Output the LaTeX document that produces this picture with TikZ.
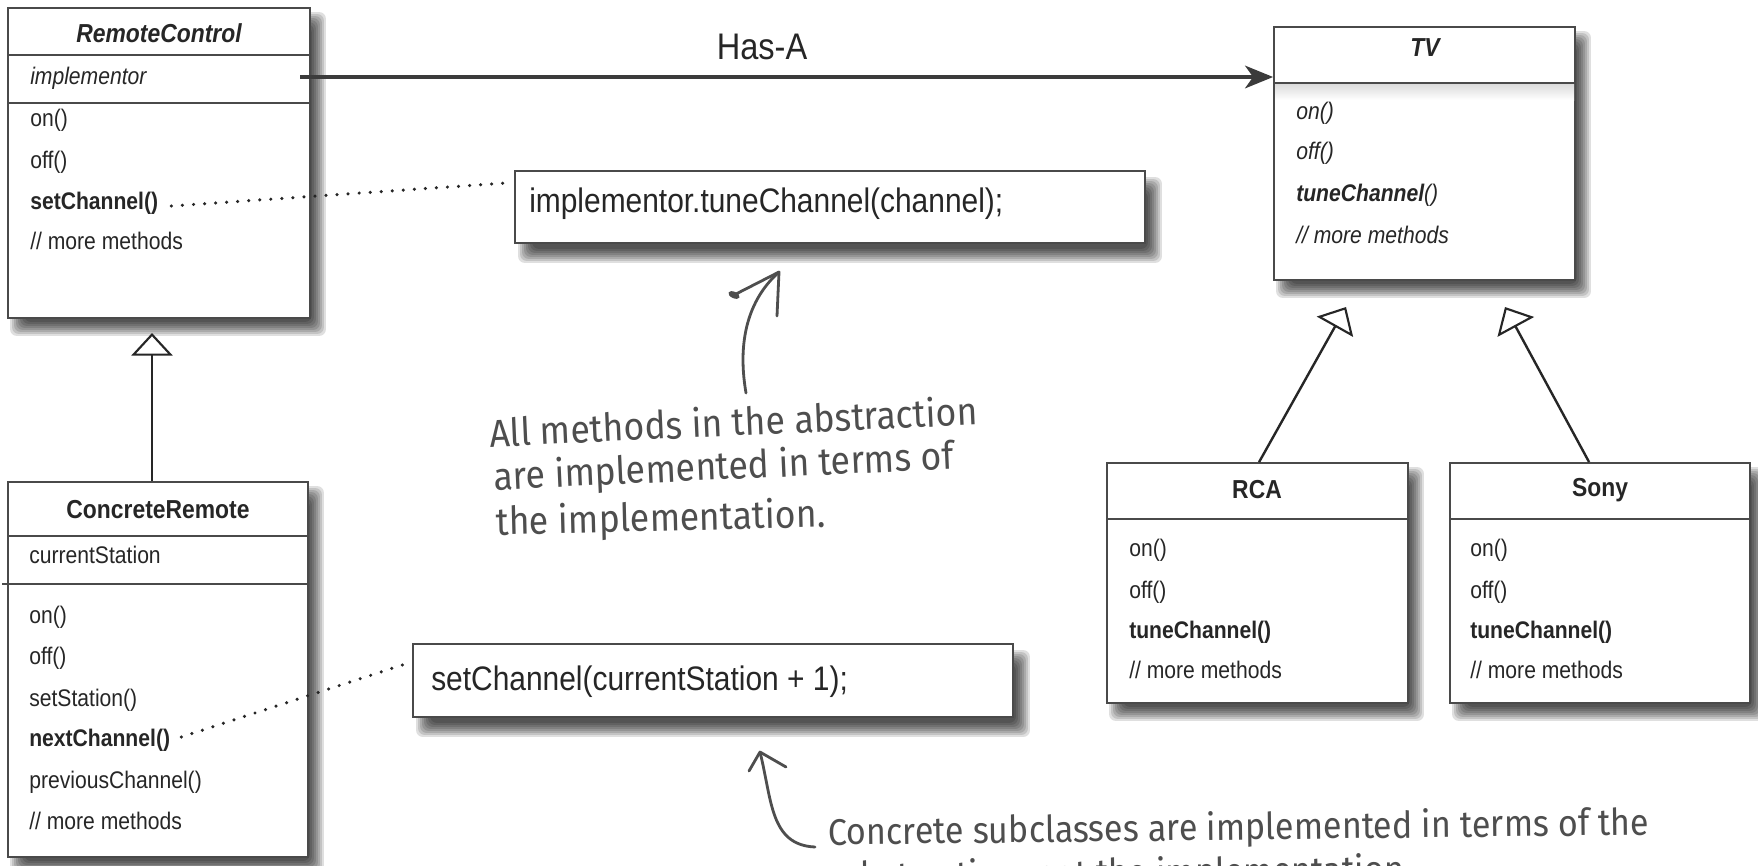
\documentclass[tikz,border=0pt]{standalone}
\usepackage{fontspec}
\usetikzlibrary{arrows.meta,calc,fit}
\newfontfamily\umlfont{Liberation Sans}[FakeStretch=0.88]
\newfontfamily\handfont{Fira Sans}[FakeStretch=0.92]
\definecolor{edge}{HTML}{4A4A4A}
\definecolor{ink}{HTML}{262626}
\definecolor{pencil}{HTML}{4E4E4E}
\pgfdeclarelayer{bglayer}
\pgfdeclarelayer{shadowlayer}
\pgfsetlayers{bglayer,shadowlayer,main}
% soft drop shadow behind a box node: #1 node, #2/#3 offset
\newcommand\dropshadow[3]{%
  \begin{pgfonlayer}{shadowlayer}
    \foreach \k in {0,...,7}{%
      \pgfmathsetmacro\e{2*\k-8}%
      \pgfmathsetmacro\xa{#2-\e}%
      \pgfmathsetmacro\ya{#3-\e}%
      \pgfmathsetmacro\xb{#2+\e}%
      \pgfmathsetmacro\yb{#3+\e}%
      \fill[black,opacity=0.125,rounded corners=5pt]
        ($(#1.north west)+(\xa,\ya)$) rectangle ($(#1.south east)+(\xb,\yb)$);
    }
  \end{pgfonlayer}}
\tikzset{
  classbox/.style={draw=edge, line width=1.4pt, fill=white, inner sep=0pt},
  divider/.style={draw=edge, line width=1.4pt},
  member/.style={font=\umlfont\fontsize{18}{20}\selectfont, text=ink, inner sep=0pt,
    anchor=west, text height=13pt, text depth=3.5pt},
  classname/.style={font=\umlfont\fontsize{19.5}{22}\selectfont\bfseries, text=ink, inner sep=0pt},
  codetext/.style={font=\umlfont\fontsize{25.5}{28}\selectfont, text=ink, inner sep=0pt, anchor=west},
  hasa/.style={draw=edge!80!black, line width=2.6pt, -{Stealth[length=21pt,width=17pt,inset=6pt]}},
  inherit/.style={draw=ink, line width=1.8pt,
    -{Triangle[open,fill=white,length=17pt,width=31pt,line width=1.6pt]}},
  dots/.style={draw=ink, line width=2.6pt, line cap=round, dash pattern=on 0pt off 8.3pt},
  handnote/.style={font=\handfont\fontsize{29}{32}\selectfont, text=pencil, inner sep=0pt, anchor=base west},
  handnote small/.style={handnote, font=\handfont\fontsize{27.8}{31}\selectfont},
  hand/.style={draw=pencil, line width=2.1pt, line cap=round, line join=round},
}
\begin{document}
\begin{tikzpicture}[x=0.75pt, y=-0.75pt]
\useasboundingbox (0,0) rectangle (1758,865);
\begin{pgfonlayer}{bglayer}
  \fill[white] (0,0) rectangle (1758,865);
\end{pgfonlayer}
\clip (0,0) rectangle (1758,865);

% ---------- RemoteControl ----------
\node[classbox, fit={(8,8) (310,318)}] (rc) {};
\dropshadow{rc}{9}{11}
\draw[divider] (8,55) -- (310,55);
\draw[divider] (8,103) -- (310,103);
\node[classname] (rc-name) at (159,33) {\itshape RemoteControl};
\node[member] (rc-impl) at (30,78) {\itshape implementor};
\node[member] (rc-on) at (30,120) {on()};
\node[member] (rc-off) at (30,162) {off()};
\node[member] (rc-set) at (30,203) {\bfseries setChannel()};
\node[member] (rc-more) at (30,243) {// more methods};

% ---------- ConcreteRemote ----------
\node[classbox, fit={(8,482) (308,857)}] (cr) {};
\dropshadow{cr}{9}{11}
\draw[divider] (8,536) -- (308,536);
\draw[divider] (2,584) -- (308,584);
\node[classname] (cr-name) at (158,510) {ConcreteRemote};
\node[member] (cr-cur) at (29,557) {currentStation};
\node[member] (cr-on) at (29,617) {on()};
\node[member] (cr-off) at (29,658) {off()};
\node[member] (cr-setst) at (29,700) {setStation()};
\node[member] (cr-next) at (29,740) {\bfseries nextChannel()};
\node[member] (cr-prev) at (29,782) {previousChannel()};
\node[member] (cr-more) at (29,823) {// more methods};

% ---------- TV ----------
\node[classbox, fit={(1274,27) (1575,280)}] (tv) {};
\dropshadow{tv}{9}{11}
\fill[top color=black!14, bottom color=white] (1275,84) rectangle (1574,100);
\draw[divider] (1274,83) -- (1575,83);
\node[classname] (tv-name) at (1425,48) {\itshape TV};
\node[member] (tv-on) at (1296,113) {\itshape on()};
\node[member] (tv-off) at (1296,153) {\itshape off()};
\node[member] (tv-tune) at (1296,195) {\itshape\textbf{tuneChannel}()};
\node[member] (tv-more) at (1296,237) {\itshape // more methods};

% ---------- RCA ----------
\node[classbox, fit={(1107,463) (1408,703)}] (rca) {};
\dropshadow{rca}{9}{11}
\draw[divider] (1107,519) -- (1408,519);
\node[classname] (rca-name) at (1257,490) {RCA};
\node[member] (rca-on) at (1129,550) {on()};
\node[member] (rca-off) at (1129,592) {off()};
\node[member] (rca-tune) at (1129,632) {\bfseries tuneChannel()};
\node[member] (rca-more) at (1129,672) {// more methods};

% ---------- Sony ----------
\node[classbox, fit={(1450,463) (1750,703)}] (sony) {};
\dropshadow{sony}{9}{11}
\draw[divider] (1450,519) -- (1750,519);
\node[classname] (sony-name) at (1600,490) {Sony};
\node[member] (sony-on) at (1470,550) {on()};
\node[member] (sony-off) at (1470,592) {off()};
\node[member] (sony-tune) at (1470,632) {\bfseries tuneChannel()};
\node[member] (sony-more) at (1470,672) {// more methods};

% ---------- code snippets ----------
\node[classbox, fit={(515,171) (1145,243)}] (code1) {};
\dropshadow{code1}{10}{13}
\node[codetext] (code1-text) at (529,204) {implementor.tuneChannel(channel);};
\node[classbox, fit={(413,644) (1013,717)}] (code2) {};
\dropshadow{code2}{10}{13}
\node[codetext] (code2-text) at (431,682) {setChannel(currentStation + 1);};

% ---------- Has-A association ----------
\coordinate (hasa-start) at (300,77);
\draw[hasa] (hasa-start) -- (tv.west |- hasa-start);
\node[font=\umlfont\fontsize{27.75}{30}\selectfont, text=ink, inner sep=0pt] (hasa-label) at (762,47) {Has-A};

% ---------- inheritance ----------
\coordinate (cr-tip) at (152,333);
\draw[inherit] (cr.north -| cr-tip) -- (cr-tip);
\coordinate (rca-foot) at ($(rca.north west)+(153,0)$);
\coordinate (rca-tip) at (1346,307);
\draw[inherit] (rca-foot) -- (rca-tip);
\coordinate (sony-foot) at ($(sony.north west)+(140,0)$);
\coordinate (sony-tip) at (1505,307);
\draw[inherit] (sony-foot) -- (sony-tip);

% ---------- dotted call links ----------
\draw[dots] ($(rc-set.east)+(13,3)$) -- ($(code1.north west)+(-9,13)$);
\draw[dots] ($(cr-next.east)+(11,-3)$) -- ($(code2.north west)+(-7,21)$);

% ---------- handwritten notes ----------
\node[handnote, rotate=2.6] (note1a) at (490,447) {All methods in the abstraction};
\node[handnote, rotate=2.6] (note1b) at (494,490) {are implemented in terms of};
\node[handnote, rotate=1.4] (note1c) at (496,535) {the implementation.};
\coordinate (n1-tail) at (746,393);
\coordinate (n1-tip) at (779,272);
\draw[hand] (n1-tail) .. controls (736,335) and (752,296) .. (n1-tip);
\draw[hand] (734,295) -- (n1-tip) -- (777,316);
\fill[pencil, rotate around={-25:(734,295)}] (734,295) ellipse [x radius=4.5pt, y radius=2.4pt];

\node[handnote small, rotate=0.7] (note2a) at (828,845) {Concrete subclasses are implemented in terms of the};
\node[handnote small, rotate=0.7] (note2b) at (842,889) {abstraction, not the implementation.};
\coordinate (n2-tip) at (760,752);
\coordinate (n2-tail) at (815,847);
\draw[hand] (n2-tip) .. controls (772,800) and (770,845) .. (n2-tail);
\draw[hand] (749,771) -- (n2-tip) -- (786,767);
\end{tikzpicture}
\end{document}
